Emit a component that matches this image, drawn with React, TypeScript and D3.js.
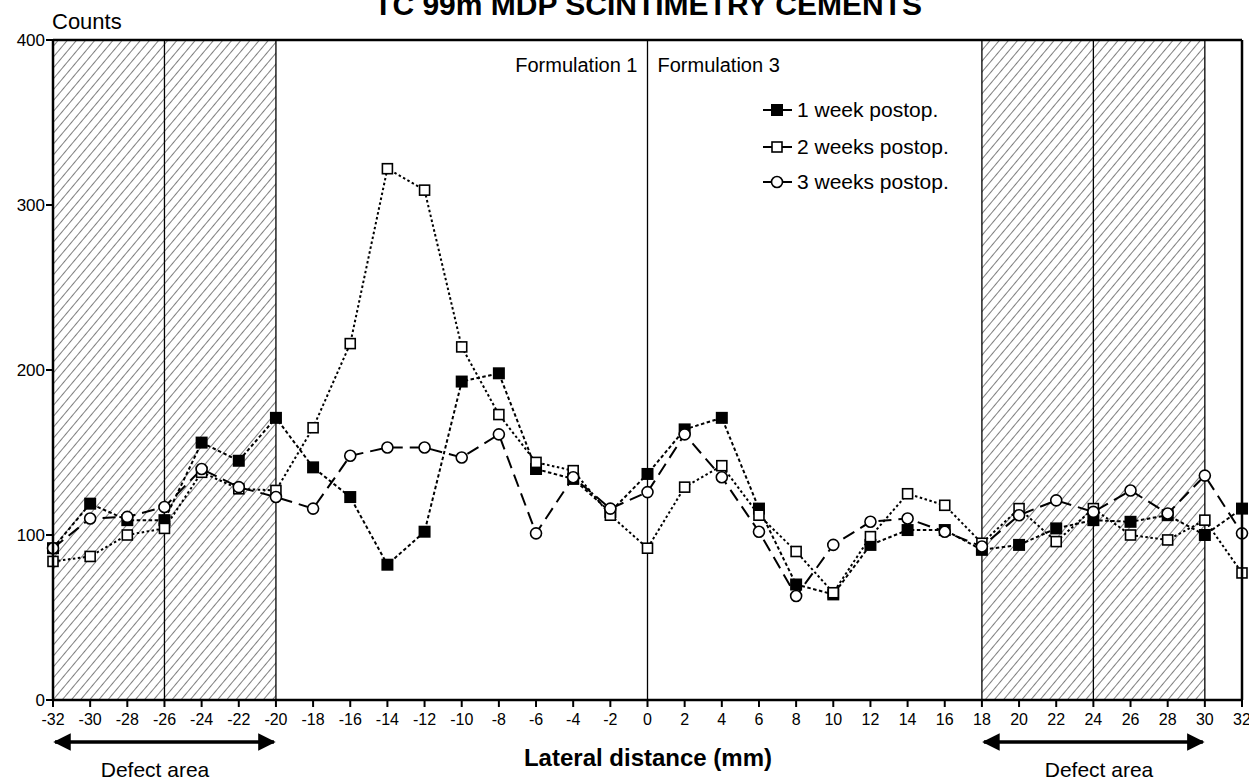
import * as d3 from "d3";
import React from "react";

// lateral distance (mm) of each measurement
const distance = [-32, -30, -28, -26, -24, -22, -20, -18, -16, -14, -12, -10, -8, -6, -4, -2, 0, 2, 4, 6, 8, 10, 12, 14, 16, 18, 20, 22, 24, 26, 28, 30, 32];

// counts per series
const week1 = [92, 119, 109, 109, 156, 145, 171, 141, 123, 82, 102, 193, 198, 140, 134, 114, 137, 164, 171, 116, 70, 64, 94, 103, 103, 91, 94, 104, 109, 108, 112, 100, 116];
const week2 = [84, 87, 100, 104, 138, 128, 127, 165, 216, 322, 309, 214, 173, 144, 139, 112, 92, 129, 142, 112, 90, 65, 99, 125, 118, 95, 116, 96, 116, 100, 97, 109, 77];
const week3 = [92, 110, 111, 117, 140, 129, 123, 116, 148, 153, 153, 147, 161, 101, 135, 116, 126, 161, 135, 102, 63, 94, 108, 110, 102, 93, 112, 121, 114, 127, 113, 136, 101];

const seriesNames = ["1 week postop.", "2 weeks postop.", "3 weeks postop."];
const yTicks = [0, 100, 200, 300, 400];
const xTicks = distance;
const defectBands = [[-32, -20], [18, 30]];
const dividers = [-26, -20, 0, 18, 24, 30];

const FONT = "'Liberation Sans', Arial, sans-serif";

function Marker({ kind, cx, cy }: { kind: string; cx: number; cy: number }) {
  if (kind === "filled")
    return <rect x={cx - 6} y={cy - 6} width={12} height={12} fill="#000" />;
  if (kind === "square")
    return <rect x={cx - 5} y={cy - 5} width={10} height={10} fill="#fff" stroke="#000" strokeWidth={1.6} />;
  return <circle cx={cx} cy={cy} r={5.5} fill="#fff" stroke="#000" strokeWidth={1.6} />;
}

export default function App() {
  const W = 1249;
  const H = 780;
  const x = d3.scaleLinear().domain([-32, 32]).range([53, 1242]);
  const y = d3.scaleLinear().domain([0, 400]).range([700, 40]);

  const series = [
    { name: seriesNames[0], values: week1, dash: "3.5,2.5", kind: "filled" },
    { name: seriesNames[1], values: week2, dash: "2.5,2.5", kind: "square" },
    { name: seriesNames[2], values: week3, dash: "13,7", kind: "circle" },
  ];

  const line = d3
    .line<number>()
    .x((d, i) => x(distance[i]))
    .y((d) => y(d));

  const legendY = [110, 147, 182];
  const defectCentres = [155, 1099];

  return (
    <svg width={W} height={H} style={{ position: "absolute", left: 0, top: 0, background: "#fff" }} fontFamily={FONT}>
      <defs>
        <pattern id="hatch" patternUnits="userSpaceOnUse" width={7} height={12} patternTransform="rotate(40)">
          <line x1={0} y1={-2} x2={0} y2={14} stroke="#000" strokeWidth={1} />
        </pattern>
        <marker id="arr" viewBox="0 0 10 10" refX={9} refY={5} markerWidth={5} markerHeight={5} orient="auto-start-reverse">
          <path d="M0,0 L10,5 L0,10 z" fill="#000" />
        </marker>
      </defs>

      <text x={648} y={15} textAnchor="middle" fontWeight="bold" fontSize={30}>
        TC 99m MDP SCINTIMETRY CEMENTS
      </text>

      {defectBands.map(([a, b], i) => (
        <rect key={i} x={x(a)} y={y(400)} width={x(b) - x(a)} height={y(0) - y(400)} fill="url(#hatch)" />
      ))}
      {dividers.map((d) => (
        <line key={d} x1={x(d)} x2={x(d)} y1={y(400)} y2={y(0)} stroke="#000" strokeWidth={1.3} />
      ))}

      {series.map((s) => (
        <path key={s.name} d={line(s.values) || ""} fill="none" stroke="#000" strokeWidth={2} strokeDasharray={s.dash} />
      ))}
      {series.map((s) => (
        <g key={s.name}>
          {s.values.map((v, i) => (
            <Marker key={i} kind={s.kind} cx={x(distance[i])} cy={y(v)} />
          ))}
        </g>
      ))}

      {/* frame */}
      <line x1={x(-32)} x2={x(32)} y1={y(400)} y2={y(400)} stroke="#000" strokeWidth={2.5} />
      <line x1={x(32)} x2={x(32)} y1={y(400)} y2={y(0)} stroke="#000" strokeWidth={2.5} />
      <line x1={x(-32)} x2={x(-32)} y1={y(400)} y2={y(0)} stroke="#000" strokeWidth={2.5} />
      <line x1={x(-32)} x2={x(32)} y1={y(0)} y2={y(0)} stroke="#000" strokeWidth={2.5} />

      {yTicks.map((t) => (
        <g key={t}>
          <line x1={x(-32) - 7} x2={x(-32)} y1={y(t)} y2={y(t)} stroke="#000" strokeWidth={2} />
          <text x={x(-32) - 8} y={y(t) + 6} textAnchor="end" fontSize={17}>{t}</text>
        </g>
      ))}
      {xTicks.map((t) => (
        <g key={t}>
          <line x1={x(t)} x2={x(t)} y1={y(0)} y2={y(0) + 7} stroke="#000" strokeWidth={2} />
          <text x={x(t)} y={y(0) + 25} textAnchor="middle" fontSize={16}>{t}</text>
        </g>
      ))}

      <text x={52} y={29} fontSize={22}>Counts</text>
      <text x={x(0) - 10} y={72} textAnchor="end" fontSize={20}>Formulation 1</text>
      <text x={x(0) + 10} y={72} fontSize={20}>Formulation 3</text>

      {series.map((s, i) => (
        <g key={s.name}>
          <line x1={763} x2={792} y1={legendY[i]} y2={legendY[i]} stroke="#000" strokeWidth={2} />
          <Marker kind={s.kind} cx={777} cy={legendY[i]} />
          <text x={797} y={legendY[i] + 7} fontSize={21}>{s.name}</text>
        </g>
      ))}

      {defectBands.map(([a, b], i) => (
        <g key={i}>
          <line x1={x(a) + 2} x2={x(b) - 2} y1={742} y2={742} stroke="#000" strokeWidth={3.5}
            markerStart="url(#arr)" markerEnd="url(#arr)" />
          <text x={defectCentres[i]} y={777} textAnchor="middle" fontSize={21}>Defect area</text>
        </g>
      ))}

      <text x={648} y={766} textAnchor="middle" fontWeight="bold" fontSize={24}>Lateral distance (mm)</text>
    </svg>
  );
}
